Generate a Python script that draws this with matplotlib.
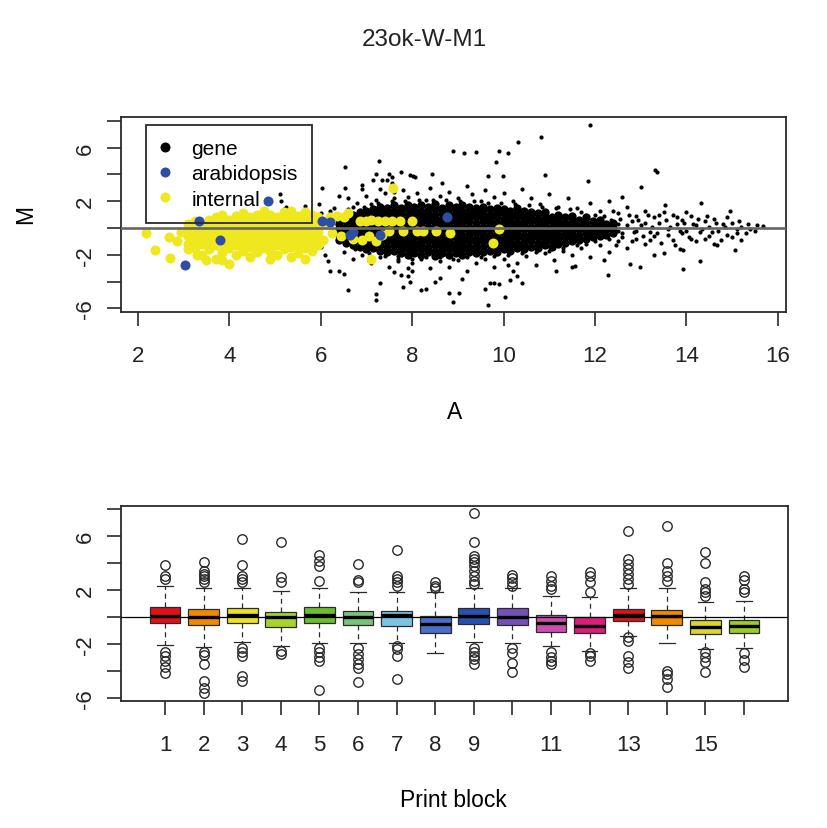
import matplotlib
matplotlib.use("Agg")
import matplotlib.pyplot as plt
from matplotlib.lines import Line2D

plt.rcParams['font.family'] = ['Liberation Sans', 'DejaVu Sans']

# ---------------- MA plot data ----------------
# dense core of the gene cloud: A column -> M values
gene_core = {
    6.40: [-0.9, -0.5, -0.1, 0.3, 0.7],
    6.55: [-1.1, -0.7, -0.3, 0.1, 0.5, 0.9],
    6.70: [-1.3, -0.9, -0.6, -0.2, 0.2, 0.6, 1.0],
    6.85: [-1.4, -1.0, -0.7, -0.3, 0.0, 0.4, 0.8, 1.2],
    7.00: [-1.6, -1.2, -0.8, -0.5, -0.1, 0.3, 0.6, 1.0, 1.3],
    7.15: [-1.5, -1.1, -0.8, -0.4, 0.0, 0.3, 0.7, 1.1, 1.4],
    7.30: [-1.7, -1.3, -0.9, -0.6, -0.2, 0.2, 0.5, 0.9, 1.3, 1.6],
    7.45: [-1.8, -1.4, -1.0, -0.7, -0.3, 0.1, 0.4, 0.8, 1.2, 1.5],
    7.60: [-1.7, -1.3, -1.0, -0.6, -0.2, 0.2, 0.6, 0.9, 1.3, 1.7],
    7.75: [-1.9, -1.5, -1.1, -0.8, -0.4, 0.0, 0.4, 0.7, 1.1, 1.5],
    7.90: [-2.0, -1.6, -1.2, -0.9, -0.5, -0.1, 0.3, 0.6, 1.0, 1.4, 1.7],
    8.05: [-1.9, -1.5, -1.1, -0.7, -0.3, 0.1, 0.4, 0.8, 1.2, 1.6],
    8.20: [-2.0, -1.6, -1.3, -0.9, -0.5, -0.2, 0.2, 0.6, 0.9, 1.3, 1.7],
    8.35: [-1.8, -1.4, -1.0, -0.6, -0.3, 0.1, 0.5, 0.8, 1.2, 1.6],
    8.50: [-2.1, -1.7, -1.3, -0.9, -0.5, -0.1, 0.2, 0.6, 1.0, 1.4, 1.8],
    8.65: [-1.9, -1.5, -1.1, -0.8, -0.4, 0.0, 0.4, 0.7, 1.1, 1.5],
    8.80: [-2.0, -1.6, -1.2, -0.8, -0.5, -0.1, 0.3, 0.7, 1.0, 1.4, 1.7],
    8.95: [-1.9, -1.5, -1.1, -0.7, -0.3, 0.1, 0.5, 0.8, 1.2, 1.6],
    9.10: [-2.0, -1.6, -1.2, -0.9, -0.5, -0.1, 0.2, 0.6, 1.0, 1.3, 1.7],
    9.25: [-1.8, -1.4, -1.0, -0.6, -0.2, 0.1, 0.5, 0.9, 1.2, 1.6],
    9.40: [-1.9, -1.5, -1.1, -0.8, -0.4, 0.0, 0.4, 0.8, 1.1, 1.5],
    9.55: [-1.8, -1.4, -1.0, -0.6, -0.3, 0.1, 0.5, 0.9, 1.3, 1.6],
    9.70: [-1.7, -1.3, -0.9, -0.5, -0.1, 0.3, 0.6, 1.0, 1.4],
    9.85: [-1.8, -1.4, -1.0, -0.7, -0.3, 0.1, 0.4, 0.8, 1.2, 1.5],
    10.00: [-1.6, -1.2, -0.8, -0.4, 0.0, 0.3, 0.7, 1.1, 1.4],
    10.15: [-1.7, -1.3, -0.9, -0.5, -0.2, 0.2, 0.6, 0.9, 1.3],
    10.30: [-1.5, -1.1, -0.7, -0.3, 0.1, 0.4, 0.8, 1.2, 1.5],
    10.45: [-1.6, -1.2, -0.8, -0.5, -0.1, 0.3, 0.6, 1.0, 1.3],
    10.60: [-1.4, -1.0, -0.6, -0.2, 0.1, 0.5, 0.9, 1.2],
    10.75: [-1.5, -1.1, -0.7, -0.4, 0.0, 0.4, 0.7, 1.1],
    10.90: [-1.3, -0.9, -0.5, -0.2, 0.2, 0.6, 0.9, 1.2],
    11.05: [-1.4, -1.0, -0.6, -0.3, 0.1, 0.5, 0.8],
    11.20: [-1.2, -0.8, -0.5, -0.1, 0.3, 0.6, 1.0],
    11.35: [-1.1, -0.7, -0.3, 0.0, 0.4, 0.8],
    11.50: [-1.0, -0.6, -0.2, 0.2, 0.5, 0.9],
    11.65: [-0.9, -0.5, -0.1, 0.3, 0.6],
    11.80: [-0.8, -0.4, 0.0, 0.4, 0.8],
    11.95: [-0.7, -0.3, 0.1, 0.5],
    12.10: [-0.6, -0.2, 0.2, 0.6],
    12.25: [-0.5, -0.1, 0.3],
    12.40: [-0.4, 0.0, 0.4],
}

# scattered genes around the core (A, M)
gene_spread = [
    (11.9, 7.7), (10.82, 6.77), (10.32, 6.44), (8.9, 5.77), (9.13, 5.6), (9.39, 5.69),
    (9.9, 5.77), (10.09, 5.57), (9.83, 4.9), (13.31, 4.3), (13.36, 4.2), (11.85, 3.53),
    (10.9, 3.98), (9.67, 3.9), (9.99, 3.9), (8.02, 3.9), (7.96, 3.95), (8.06, 3.8),
    (8.44, 4.03), (8.66, 3.36), (13.0, 3.04), (14.33, 1.84), (14.95, 1.3), (15.67, 0.18),
    (15.5, -0.2), (15.06, -1.62), (15.1, -0.35), (14.6, -1.2), (14.68, -1.25), (14.3, -2.43),
    (13.93, -3.06), (13.87, -1.57), (13.92, -1.62), (12.29, -3.48), (12.98, -2.94),
    (12.76, -2.69), (11.15, -3.18), (11.5, -2.94), (11.56, -2.81), (9.66, -5.75),
    (10.03, -5.13), (8.9, -5.5), (8.8, -4.85), (9.03, -4.85), (8.3, -4.55), (9.6, -4.55),
    (9.8, -4.1), (9.9, -4.18), (9.7, -4.1), (8.5, -4.05), (9.1, -3.8), (10.2, -3.2),
    (10.3, -3.6), (10.4, -4.1), (10.15, -3.85), (10.1, -2.76), (7.9, -3.6), (8.0, -3.2),
    (8.6, -3.7),
    (7.28, 4.97), (6.53, 4.53), (7.2, 4.0), (7.33, 3.6), (7.45, 3.6), (7.55, 3.35),
    (7.15, 3.6), (7.5, 4.0), (7.55, 3.8), (7.76, 4.15), (6.02, 2.98), (6.53, 2.98),
    (6.9, 2.9), (5.1, 2.54), (5.12, 2.0), (5.25, 1.6), (5.2, 1.4), (5.65, 1.66),
    (5.33, 1.17), (5.77, 0.65), (5.96, 1.8), (6.0, -1.4), (6.1, -2.0), (6.15, -2.5),
    (6.2, -3.2), (6.4, -3.2), (6.5, -3.4), (6.6, -4.6), (7.2, -4.9), (7.2, -5.4),
    (7.3, -4.1), (7.6, -3.3), (7.75, -3.5), (7.8, -4.4), (7.95, -4.0), (7.7, -2.5),
    (7.9, -3.0), (8.2, -4.6),
    (6.3, 1.5), (6.6, 2.2), (6.8, 1.9), (7.0, 2.4), (7.2, 2.1), (7.4, 2.6), (7.6, 2.2),
    (7.8, 2.8), (7.9, 2.3), (8.1, 2.6), (8.3, 2.1), (8.4, 3.0), (8.6, 2.4), (8.8, 2.7),
    (9.0, 2.2), (9.2, 3.1), (9.3, 2.5), (9.5, 2.0), (9.6, 2.8), (9.8, 2.3), (10.0, 2.6),
    (10.2, 2.0), (10.4, 2.9), (10.6, 2.2), (10.8, 1.8), (11.0, 2.5), (11.2, 1.6),
    (11.4, 2.2), (11.6, 1.5), (11.9, 1.9), (12.1, 1.3), (12.3, 2.0), (12.5, 1.1),
    (12.7, 1.6), (12.9, 0.9), (13.1, 1.3), (13.3, 0.8), (13.5, 1.2), (13.7, 1.0),
    (13.9, 0.6), (14.1, 0.9), (14.4, 0.5), (14.6, 0.7), (14.8, 0.3), (15.0, 0.4),
    (15.2, 0.1),
    (6.5, -1.8), (6.7, -2.3), (6.9, -2.0), (7.1, -2.6), (7.3, -2.2), (7.5, -2.9),
    (7.7, -2.3), (8.0, -2.6), (8.2, -2.3), (8.4, -3.0), (8.6, -2.5), (8.8, -2.9),
    (9.0, -2.4), (9.2, -3.2), (9.4, -2.6), (9.6, -2.3), (9.8, -2.9), (10.0, -2.3),
    (10.3, -2.6), (10.5, -2.1), (10.7, -2.8), (10.9, -1.9), (11.1, -2.4), (11.3, -1.7),
    (11.5, -2.0), (11.7, -1.5), (11.9, -2.2), (12.1, -1.3), (12.3, -1.8), (12.5, -1.0),
    (12.7, -1.5), (12.9, -0.8), (13.1, -1.2), (13.3, -0.6), (13.5, -1.9), (13.7, -0.9),
    (13.9, -0.4), (14.1, -0.8), (14.3, -0.3), (14.5, -0.6), (14.7, -0.2), (14.9, -0.5),
    (15.1, -0.1), (15.3, -0.4),
    (12.5, 0.3), (12.6, -0.4), (12.8, 0.5), (12.9, -0.2), (13.0, 0.2), (13.2, -0.3),
    (13.4, 0.4), (13.6, -0.1), (13.8, 0.3), (14.0, -0.2), (14.2, 0.2), (14.5, 0.1),
    (6.2, 1.3), (6.4, 2.4), (6.7, 1.6), (6.9, 3.2), (7.1, 1.8), (7.3, 2.9), (7.6, 2.7),
    (6.0, 1.1), (6.3, 0.9), (13.53, 1.68), (12.6, 2.3), (12.2, -2.4), (13.3, -2.0),
    (11.7, 1.2), (11.8, -1.2), (12.0, 1.0), (12.0, -1.0), (12.2, 0.9), (12.3, -0.8),
    (12.4, 1.3), (12.45, -1.3), (12.55, 0.7), (12.6, -0.7), (12.7, 0.2), (12.75, 1.0),
    (12.8, -1.0), (12.85, -0.3), (12.95, 0.6), (13.05, -0.6), (13.1, 0.4), (13.15, 1.0),
    (13.2, -0.9), (13.25, 0.1), (13.35, -0.4), (13.4, 1.0), (13.45, -1.1), (13.55, 0.6),
    (13.6, -0.5), (13.65, 0.1), (13.75, -1.3), (13.8, 0.8), (13.85, -0.2), (13.95, 0.4),
    (14.0, 1.2), (14.05, -0.7), (14.15, 0.3), (14.2, -1.0), (14.25, 0.7), (14.35, -0.1),
    (14.4, -0.8), (14.45, 0.9), (14.55, -0.3), (14.65, 0.4), (14.75, -0.9), (14.85, 0.1),
    (14.9, 0.8), (15.0, -0.7), (15.15, 0.5), (15.2, -0.9), (15.35, 0.3), (15.4, -0.1),
    (15.55, 0.2), (12.05, 0.4), (12.15, -0.4), (11.75, 0.7), (11.85, -0.6), (12.35, 0.6),
    (12.5, -0.2),
    (6.6, 1.4), (6.75, -1.6), (6.95, 1.6), (7.05, -1.9), (7.25, 1.9), (7.4, -2.1),
    (7.55, 2.0), (7.7, -2.1), (7.85, 2.0), (8.0, -2.3), (8.15, 2.1), (8.3, -2.2),
    (8.45, 2.1), (8.6, -2.2), (8.75, 2.1), (8.9, -2.3), (9.05, 2.0), (9.2, -2.2),
    (9.35, 2.0), (9.5, -2.2), (9.65, 1.9), (9.8, -2.1), (9.95, 1.9), (10.1, -2.0),
    (10.25, 1.8), (10.4, -1.9), (10.55, 1.7), (10.7, -1.8), (10.85, 1.6), (11.0, -1.7),
    (11.15, 1.5), (11.3, -1.5), (11.45, 1.4), (11.6, -1.3),
]

# internal controls: main mass as A column -> M values, plus single points
internal_cols = {
    3.10: [-1.2, -0.6, -0.1, 0.3],
    3.25: [-1.5, -0.9, -0.4, 0.1, 0.5],
    3.40: [-2.0, -1.2, -0.7, -0.2, 0.3],
    3.55: [-1.6, -1.0, -0.5, 0.0, 0.6],
    3.70: [-2.3, -1.3, -0.8, -0.3, 0.2, 0.8],
    3.85: [-2.4, -1.8, -1.1, -0.6, -0.1, 0.4, 1.0],
    4.00: [-2.7, -1.5, -0.9, -0.4, 0.1, 0.6],
    4.15: [-2.0, -1.3, -0.7, -0.2, 0.3, 0.9],
    4.30: [-1.7, -1.1, -0.5, 0.0, 0.5, 1.1],
    4.45: [-2.2, -1.4, -0.8, -0.3, 0.2, 0.8],
    4.60: [-1.8, -1.2, -0.6, -0.1, 0.4, 1.0],
    4.75: [-1.5, -0.9, -0.4, 0.1, 0.6, 1.3],
    4.90: [-2.3, -1.7, -1.1, -0.5, 0.0, 0.5, 1.0],
    5.05: [-2.0, -1.3, -0.8, -0.2, 0.3, 0.8],
    5.20: [-1.6, -1.0, -0.5, 0.1, 0.6, 1.2],
    5.35: [-2.2, -1.4, -0.8, -0.3, 0.2, 0.7, 1.3],
    5.50: [-1.9, -1.2, -0.6, -0.1, 0.4, 0.9],
    5.65: [-2.3, -1.5, -0.9, -0.4, 0.1, 0.6, 1.2],
    5.80: [-1.7, -1.1, -0.5, 0.0, 0.5, 1.0],
    5.95: [-1.3, -0.7, -0.2, 0.3, 0.8],
}
internal_extra = [
    (2.17, -0.37), (2.37, -1.62), (2.7, -2.24), (2.68, -0.7), (2.86, -1.0), (2.95, -0.3),
    (3.1, -1.6), (3.3, -2.0), (3.5, -2.4),
    (6.1, 0.3), (6.2, 0.8), (6.35, 0.9), (6.5, 0.8), (6.6, 1.1), (6.25, -0.4),
    (6.45, -0.6), (6.7, -0.8), (6.85, 0.5), (7.0, 0.5), (7.1, 0.6), (7.25, 0.5),
    (7.4, 0.55), (7.55, 0.5), (6.9, -0.9), (7.05, -0.6), (7.2, -1.0), (7.35, -0.5),
    (7.5, -0.2), (7.1, -2.3), (7.59, 2.96), (7.8, -0.2), (8.1, -0.2), (7.74, 0.5),
    (7.99, 0.5), (8.24, -0.2), (8.53, -0.25), (8.82, -0.4), (9.9, -0.1), (9.77, -1.1),
    (6.05, -0.9),
]

arab_A = [4.84, 3.03, 3.33, 3.8, 6.02, 6.2, 6.7, 6.65, 7.3, 8.77]
arab_M = [2.0, -2.8, 0.5, -0.9, 0.5, 0.45, -0.3, -0.5, -0.5, 0.8]

ma_labels = ["gene", "arabidopsis", "internal"]
ma_colors = ["#000000", "#2D4DA6", "#EFE81F"]

# ---------------- print-tip boxplot data ----------------
blocks = list(range(1, 17))
block_q1 = [-0.47, -0.59, -0.47, -0.72, -0.44, -0.59, -0.64, -1.19,
            -0.52, -0.59, -1.09, -1.21, -0.27, -0.59, -1.26, -1.19]
block_med = [0.10, 0.00, 0.15, 0.00, 0.15, 0.02, 0.15, -0.52,
             0.10, 0.02, -0.47, -0.64, 0.15, 0.10, -0.72, -0.64]
block_q3 = [0.72, 0.59, 0.64, 0.40, 0.72, 0.47, 0.42, 0.10,
            0.64, 0.64, 0.15, -0.02, 0.59, 0.54, -0.20, -0.20]
block_wlo = [-2.05, -2.25, -1.88, -2.12, -1.90, -1.90, -1.90, -2.70,
             -1.88, -1.93, -2.12, -2.50, -1.38, -1.93, -2.37, -2.32]
block_whi = [2.27, 2.15, 2.15, 1.95, 2.15, 1.83, 1.87, 1.83,
             2.15, 2.15, 1.58, 1.46, 2.15, 2.15, 1.09, 1.21]
block_out = [
    [3.85, 3.02, 2.81, -2.57, -2.86, -3.23, -3.68, -4.12],
    [4.10, 3.43, 3.19, 3.02, 2.81, 2.57, -2.62, -2.79, -3.48, -4.72, -5.26, -5.63],
    [5.78, 3.85, 3.02, 2.81, 2.57, -2.32, -2.57, -2.86, -4.35, -4.72],
    [5.58, 2.96, 2.57, -2.54, -2.74],
    [4.62, 4.17, 3.75, 2.69, -2.32, -2.62, -2.94, -3.23, -5.41],
    [3.93, 2.77, 2.57, -2.32, -2.74, -3.11, -3.48, -3.78, -4.79],
    [4.96, 3.06, 2.81, 2.57, 2.32, -2.12, -2.37, -2.86, -4.60],
    [2.57, 2.32, 2.12],
    [7.70, 5.58, 4.54, 4.30, 4.05, 3.80, 3.43, 3.06, 2.69, 2.44,
     -2.32, -2.62, -2.86, -3.11, -3.48],
    [3.11, 2.86, 2.57, 2.32, -2.32, -2.67, -3.41, -4.05],
    [3.02, 2.69, 2.32, 2.07, -2.62, -2.99, -3.23, -3.48],
    [3.31, 3.02, 2.62, 1.83, -2.67, -2.90, -3.23],
    [6.40, 4.30, 3.93, 3.56, 3.19, 2.81, 2.44, -1.51, -1.75, -2.86, -3.36, -3.78],
    [6.77, 4.00, 3.43, 3.02, 2.69, -3.98, -4.22, -4.60, -5.16],
    [4.84, 4.00, 2.57, 2.07, 1.83, 1.58, -2.62, -2.99, -3.36, -4.05],
    [3.02, 2.77, 2.07, 1.83, -2.67, -3.16, -3.73],
]
block_colors = ["#E3101A", "#F18A00", "#EAE222", "#A8D42A", "#6BBF2C", "#78C27A",
                "#7CC4E6", "#4B6FC7", "#2B4FAE", "#7650B6", "#CC4FB0", "#DE1C7B",
                "#E3101A", "#F18A00", "#D9D62A", "#9CCB2A"]
block_ticklabels = ["1", "2", "3", "4", "5", "6", "7", "8", "9", "", "11", "", "13", "", "15", ""]

y_ticks = [-6, -4, -2, 0, 2, 4, 6, 8]
y_ticklabels = ["-6", "", "-2", "", "2", "", "6", ""]

FRAME = "#2a2a2a"
FS_TICK = 16
FS_LAB = 16.5
FS_LEG = 15
FS_TITLE = 17.5

fig = plt.figure(figsize=(8.27, 8.29), dpi=100)
ax1 = fig.add_axes([121 / 827, 1 - 313 / 829, 665 / 827, 195 / 829])
ax2 = fig.add_axes([121 / 827, 1 - 702 / 829, 667 / 827, 195 / 829])

# ---- top: MA plot ----
core_A = [a for a, ms in gene_core.items() for _ in ms]
core_M = [m for ms in gene_core.values() for m in ms]
spread_A = [p[0] for p in gene_spread]
spread_M = [p[1] for p in gene_spread]
int_A = [a for a, ms in internal_cols.items() for _ in ms] + [p[0] for p in internal_extra]
int_M = [m for ms in internal_cols.values() for m in ms] + [p[1] for p in internal_extra]

ax1.scatter(core_A, core_M, s=36, c=ma_colors[0], lw=0, zorder=2)
ax1.scatter(spread_A, spread_M, s=9, c=ma_colors[0], lw=0, zorder=2)
ax1.scatter(int_A, int_M, s=52, c=ma_colors[2], lw=0, zorder=3)
ax1.scatter(arab_A, arab_M, s=52, c=ma_colors[1], lw=0, zorder=4)
ax1.axhline(0, color="#666666", lw=1.9, zorder=5)

ax1.set_xlim(1.63, 16.18)
ax1.set_ylim(-6.27, 8.28)
ax1.set_xticks([2, 4, 6, 8, 10, 12, 14, 16])
ax1.set_yticks(y_ticks)
ax1.set_yticklabels(y_ticklabels, rotation=90, va="center")

handles = [Line2D([], [], ls="", marker="o", ms=7.2, mec="none", mfc=c) for c in ma_colors]
leg = ax1.legend(handles, ma_labels, loc="upper left", bbox_to_anchor=(0.0376, 0.959),
                 borderaxespad=0, fontsize=FS_LEG, frameon=True, fancybox=False,
                 facecolor="none", framealpha=1, edgecolor=FRAME, borderpad=0.68,
                 handlelength=0.5, handletextpad=1.0, labelspacing=0.3)
leg.get_frame().set_linewidth(1.3)
ax1.set_ylabel("M", fontsize=FS_LAB)
ax1.yaxis.set_label_coords(-0.144, 0.503)
ax1.yaxis.label.set_va("center")
ax1.set_xlabel("A", fontsize=FS_LAB)
ax1.xaxis.set_label_coords(0.502, -0.508)
ax1.xaxis.label.set_va("center")

# ---- bottom: boxplots by print block ----
stats = []
for i in range(len(blocks)):
    stats.append(dict(med=block_med[i], q1=block_q1[i], q3=block_q3[i],
                      whislo=block_wlo[i], whishi=block_whi[i], fliers=block_out[i]))
bp = ax2.bxp(stats, positions=blocks, widths=0.8, patch_artist=True,
             boxprops=dict(edgecolor=FRAME, linewidth=0.9),
             medianprops=dict(color="black", linewidth=2.4),
             whiskerprops=dict(color=FRAME, linewidth=0.9, linestyle=(0, (4, 3))),
             capprops=dict(color=FRAME, linewidth=0.9),
             flierprops=dict(marker="o", markersize=6.8, markerfacecolor="none",
                             markeredgecolor=FRAME, markeredgewidth=1.0))
for patch, col in zip(bp["boxes"], block_colors):
    patch.set_facecolor(col)
ax2.axhline(0, color="black", lw=0.9, zorder=5)

ax2.set_xlim(-0.14, 17.14)
ax2.set_ylim(-6.22, 8.22)
ax2.set_xticks(blocks)
ax2.set_xticklabels(block_ticklabels)
ax2.set_yticks(y_ticks)
ax2.set_yticklabels(y_ticklabels, rotation=90, va="center")
ax2.set_xlabel("Print block", fontsize=FS_LAB)
ax2.xaxis.set_label_coords(0.499, -0.503)
ax2.xaxis.label.set_va("center")

for ax in (ax1, ax2):
    for sp in ax.spines.values():
        sp.set_color(FRAME)
        sp.set_linewidth(1.3)
    ax.tick_params(axis="both", direction="out", length=10, width=1.2, color=FRAME,
                   labelsize=FS_TICK, labelcolor="#222222")
    ax.tick_params(axis="x", pad=13.5)
    ax.tick_params(axis="y", pad=8)

fig.text(424 / 827, 1 - 40 / 829, "23ok-W-M1", ha="center", va="center",
         fontsize=FS_TITLE, color="#222222")

fig.savefig("out.png", dpi=100)
